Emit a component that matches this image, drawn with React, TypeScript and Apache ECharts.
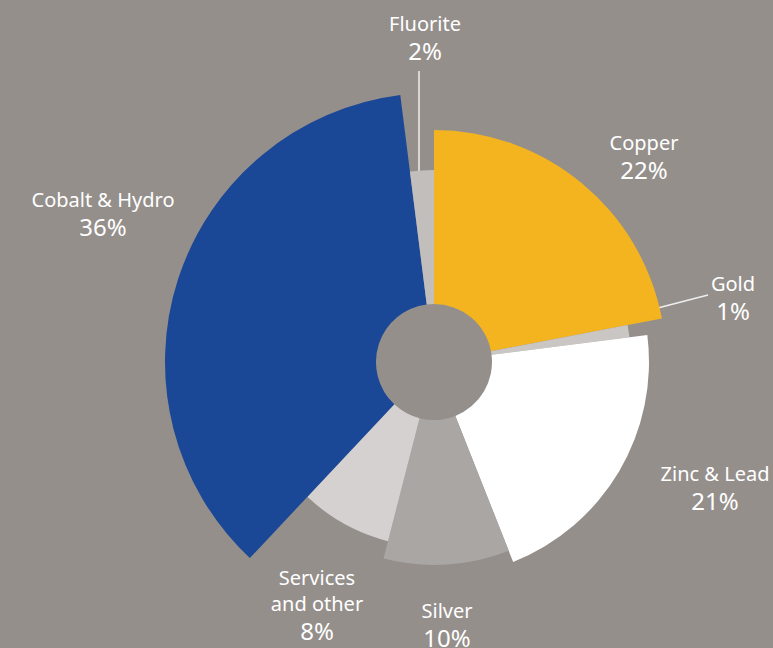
import React, { useEffect, useRef } from "react";
import * as echarts from "echarts";

const categories = ["Copper", "Gold", "Zinc & Lead", "Silver", "Services\nand other", "Cobalt & Hydro", "Fluorite"];
const shares = [22, 1, 21, 10, 8, 36, 2];
const colors = ["#f4b420", "#c9c6c4", "#ffffff", "#aaa6a4", "#d4d1d0", "#1b4896", "#c1bebc"];
// outer radius of each slice (px)
const outerRadii = [232, 197, 215, 203, 185, 269, 192];
// label anchor positions (center x, top y)
const labelPos: [number, number][] = [
  [644, 129],
  [733, 270],
  [715, 460],
  [447, 597],
  [317, 564],
  [103, 186],
  [425, 10],
];

const BG = "#958f8c";
const CX = 434;
const CY = 362;
const INNER = 58;

export default function App() {
  const ref = useRef<HTMLDivElement>(null);
  useEffect(() => {
    if (!ref.current) return;
    const chart = echarts.init(ref.current, undefined, { renderer: "svg" });
    let cum = 0;
    const series: any[] = shares.map((v, i) => {
      const start = 90 - cum * 3.6;
      cum += v;
      return {
        type: "pie",
        center: [CX, CY],
        radius: [INNER, outerRadii[i]],
        startAngle: start,
        clockwise: true,
        silent: true,
        label: { show: false },
        labelLine: { show: false },
        itemStyle: { borderWidth: 0 },
        data: [
          { value: v, name: categories[i], itemStyle: { color: colors[i] } },
          { value: 100 - v, name: "rest" + i, itemStyle: { color: "transparent" } },
        ],
      };
    });
    const graphic: any[] = [];
    categories.forEach((c, i) => {
      const [x, y] = labelPos[i];
      const nameText = c
        .split("\n")
        .map((s) => "{n|" + s + "}")
        .join("\n");
      graphic.push({
        type: "text",
        x,
        y,
        style: {
          text: nameText + "\n{p|" + shares[i] + "%}",
          fill: "#ffffff",
          fontFamily: "'Noto Sans'",
          align: "center",
          verticalAlign: "top",
          rich: {
            n: { fontSize: 20, lineHeight: 26, fill: "#ffffff", fontFamily: "'Noto Sans'", align: "center" },
            p: { fontSize: 24, lineHeight: 28, fill: "#ffffff", fontFamily: "'Noto Sans'", align: "center" },
          },
        },
      });
    });
    graphic.push({
      type: "line",
      shape: { x1: 419, y1: 71, x2: 419, y2: 183 },
      style: { stroke: "rgba(255,255,255,0.85)", lineWidth: 1.5 },
    });
    graphic.push({
      type: "line",
      shape: { x1: 708, y1: 295, x2: 623, y2: 317 },
      style: { stroke: "rgba(255,255,255,0.85)", lineWidth: 1.5 },
    });
    chart.setOption({
      animation: false,
      backgroundColor: BG,
      series,
      graphic,
    });
    return () => chart.dispose();
  }, []);
  return <div ref={ref} style={{ position: "absolute", left: 0, top: 0, width: 773, height: 648 }} />;
}
